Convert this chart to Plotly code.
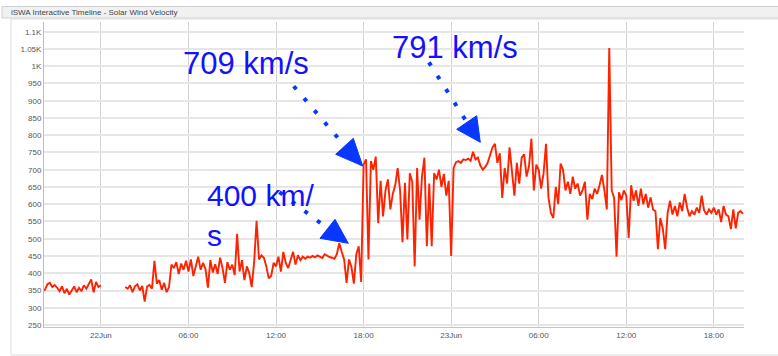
import math
import pandas as pd
import plotly.graph_objects as go

# ---------------- data (10-minute samples, starting 21 Jun 20:00) ----------------
start_time = "2015-06-21 20:00"
speed_21jun_evening = [
    350, 352, 368, 372, 360, 366,   # 20h
    358, 348, 362, 342, 355, 338,   # 21h
    350, 362, 345, 358, 348, 365,   # 22h
    355, 370, 382, 345, 375, 360,   # 23h
]
speed_22jun = [
    365, None, None, None, None, None,   # 00h
    None, None, None, None, 360, 355,    # 01h
    365, 345, 362, 368, 350, 363,   # 02h
    318, 362, 366, 355, 436, 370,   # 03h
    380, 352, 372, 345, 360, 425,   # 04h
    415, 432, 398, 428, 410, 436,   # 05h
    405, 440, 392, 425, 448, 410,   # 06h
    430, 412, 358, 438, 402, 426,   # 07h
    398, 445, 415, 372, 432, 410,   # 08h
    425, 395, 514, 405, 438, 380,   # 09h
    420, 400, 360, 432, 552, 440,   # 10h
    452, 445, 420, 385, 392, 430,   # 11h
    420, 448, 405, 462, 430, 415,   # 12h
    440, 462, 425, 452, 438, 448,   # 13h
    442, 448, 445, 450, 446, 452,   # 14h
    448, 444, 455, 450, 447, 445,   # 15h
    442, 455, 487, 462, 440, 372,   # 16h
    440, 418, 370, 455, 478, 375,   # 17h
    715, 730, 440, 725, 700, 738,   # 18h
    545, 668, 565, 640, 672, 585,   # 19h
    630, 655, 705, 640, 490, 662,   # 20h
    498, 690, 665, 420, 705, 555,   # 21h
    680, 735, 478, 660, 478, 690,   # 22h
    672, 700, 650, 688, 625, 668,   # 23h
]
speed_23jun = [
    450, 705, 722, 725, 720, 730,   # 00h
    728, 732, 726, 752, 730, 735,   # 01h
    712, 700, 708, 720, 745, 765,   # 02h
    775, 720, 748, 618, 705, 660,   # 03h
    765, 690, 625, 720, 660, 735,   # 04h
    745, 680, 710, 790, 640, 715,   # 05h
    700, 645, 690, 775, 620, 575,   # 06h
    560, 650, 600, 718, 700, 640,   # 07h
    665, 630, 680, 645, 660, 625,   # 08h
    640, 665, 555, 630, 615, 645,   # 09h
    630, 655, 685, 640, 585, 1053,  # 10h
    640, 618, 448, 635, 612, 640,   # 11h
    625, 502, 655, 610, 640, 595,   # 12h
    645, 600, 630, 590, 620, 585,   # 13h
    580, 470, 560, 530, 470, 575,   # 14h
    610, 570, 595, 565, 605, 580,   # 15h
    630, 590, 565, 580, 570, 590,   # 16h
    575, 625, 582, 570, 585, 575,   # 17h
    590, 570, 585, 548, 595, 570,   # 18h
    565, 528, 585, 530, 575, 580,   # 19h
    572,                            # 20h
]

y_tick_values = [250, 300, 350, 400, 450, 500, 550, 600, 650, 700, 750, 800,
                 850, 900, 950, 1000, 1050, 1100]
y_tick_labels = ["250", "300", "350", "400", "450", "500", "550", "600", "650",
                 "700", "750", "800", "850", "900", "950", "1K", "1.05K", "1.1K"]
x_tick_values = ["2015-06-22 00:00", "2015-06-22 06:00", "2015-06-22 12:00",
                 "2015-06-22 18:00", "2015-06-23 00:00", "2015-06-23 06:00",
                 "2015-06-23 12:00", "2015-06-23 18:00"]
x_tick_labels = ["22Jun", "06:00", "12:00", "18:00", "23Jun", "06:00", "12:00", "18:00"]

callout_labels = ["709 km/s", "791 km/s", "400 km/", "s"]

# ---------------- figure ----------------
speeds = speed_21jun_evening + speed_22jun + speed_23jun
times = pd.date_range(start_time, periods=len(speeds), freq="10min")

W, H = 778, 356
ML, MR, MT, MB = 44, 34, 22, 29
PW, PH = W - ML - MR, H - MT - MB


def px(x):
    return (x - ML) / PW


def py(y):
    return (H - MB - y) / PH


FONT = "Liberation Sans, Arial, Helvetica, sans-serif"
TEXT_BLUE = "#1212ff"
ARROW_BLUE = "#0838ff"

fig = go.Figure()
fig.add_trace(go.Scatter(
    x=times, y=speeds, mode="lines", connectgaps=False,
    line=dict(color="#ff2200", width=1.9), hoverinfo="skip", showlegend=False,
))

shapes = []
# header bar of the widget
shapes.append(dict(type="rect", xref="paper", yref="paper",
                   x0=px(2), x1=px(790), y0=py(18), y1=py(6.5),
                   fillcolor="#f1f1f1", line=dict(color="#cfcfcf", width=1), layer="below"))
# panel frame
shapes.append(dict(type="rect", xref="paper", yref="paper",
                   x0=px(11), x1=px(800), y0=py(355), y1=py(19),
                   fillcolor="rgba(0,0,0,0)", line=dict(color="#dddddd", width=1), layer="below"))


def dotted_arrow(first, last, ndots, tri):
    dx, dy = last[0] - first[0], last[1] - first[1]
    length = math.hypot(dx, dy)
    ux, uy = dx / length, dy / length
    period = length / (ndots - 1)
    dot = 4
    x0, y0 = first[0] - ux * dot / 2, first[1] - uy * dot / 2
    x1, y1 = last[0] + ux * dot / 2, last[1] + uy * dot / 2
    shapes.append(dict(type="line", xref="paper", yref="paper",
                       x0=px(x0), y0=py(y0), x1=px(x1), y1=py(y1),
                       line=dict(color=ARROW_BLUE, width=dot,
                                 dash=f"{dot}px,{period - dot:.2f}px")))
    path = "M " + " L ".join(f"{px(a):.5f},{py(b):.5f}" for a, b in tri) + " Z"
    shapes.append(dict(type="path", xref="paper", yref="paper", path=path,
                       fillcolor=ARROW_BLUE, line=dict(color=ARROW_BLUE, width=1)))


dotted_arrow((295, 87.7), (336.3, 136), 5, [(335.7, 154.3), (353.3, 138.3), (362.7, 166)])
dotted_arrow((430, 64), (464, 117.7), 5, [(456.7, 129.3), (476.7, 115.7), (480.3, 142.3)])
dotted_arrow((281, 193.3), (318.7, 221.7), 4, [(320, 238.3), (335, 219.3), (348.3, 243.3)])

annotations = [
    dict(text="iSWA Interactive Timeline - Solar Wind Velocity", xref="paper", yref="paper",
         x=px(9), y=py(12.5), xanchor="left", yanchor="middle", showarrow=False,
         font=dict(family=FONT, size=8, color="#444444")),
]
callout_pos = [(181, 64, 31), (390, 47.5, 31), (205, 195, 30), (205, 236, 30)]
for label, (xx, yy, fs) in zip(callout_labels, callout_pos):
    annotations.append(dict(text=label, xref="paper", yref="paper", x=px(xx), y=py(yy),
                            xanchor="left", yanchor="middle", showarrow=False,
                            font=dict(family=FONT, size=fs, color=TEXT_BLUE)))

fig.update_layout(
    width=W, height=H,
    margin=dict(l=ML, r=MR, t=MT, b=MB, pad=0),
    paper_bgcolor="white", plot_bgcolor="white",
    font=dict(family=FONT, size=8, color="#555555"),
    shapes=shapes, annotations=annotations, showlegend=False,
    xaxis=dict(
        type="date",
        range=["2015-06-21 20:06", "2015-06-23 20:04"],
        tickmode="array", tickvals=x_tick_values, ticktext=x_tick_labels,
        showgrid=True, gridcolor="#d2d2d2", gridwidth=1,
        showline=True, linecolor="#c4c4c4", linewidth=1,
        ticks="", zeroline=False, fixedrange=True,
        tickfont=dict(family=FONT, size=8, color="#555555"),
    ),
    yaxis=dict(
        range=[244.2, 1128.2],
        tickmode="array", tickvals=y_tick_values, ticktext=y_tick_labels,
        showgrid=True, gridcolor="#e6e6e6", gridwidth=2,
        showline=True, linecolor="#bdbdbd", linewidth=1,
        ticks="", zeroline=False, fixedrange=True,
        tickfont=dict(family=FONT, size=8, color="#555555"),
    ),
)

fig.write_html("out.html", config={"displayModeBar": False})
